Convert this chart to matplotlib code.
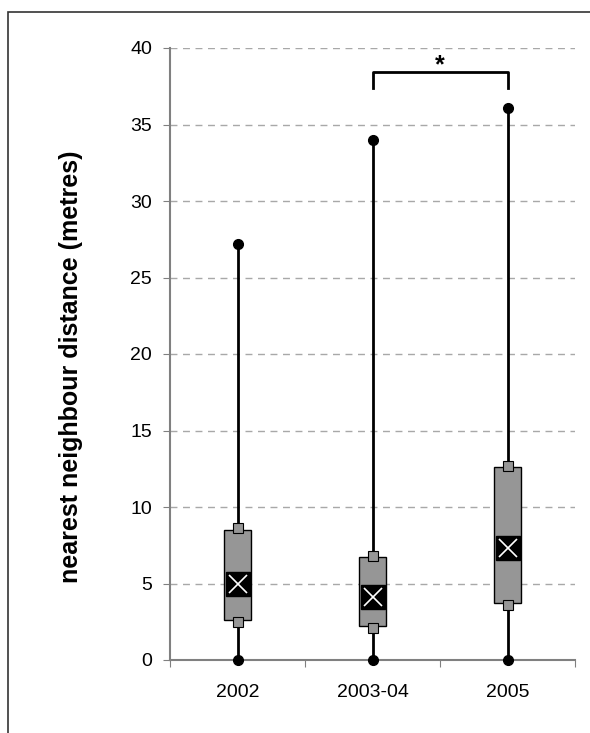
import matplotlib
matplotlib.use("Agg")
import matplotlib.pyplot as plt
from matplotlib.patches import Rectangle

plt.rcParams['font.family'] = ['Liberation Sans', 'DejaVu Sans']

# data
years = ["2002", "2003-04", "2005"]
max_vals = [27.2, 34.0, 36.1]
min_vals = [0.0, 0.0, 0.0]
upper_sq = [8.6, 6.8, 12.7]
lower_sq = [2.5, 2.1, 3.6]
box_top = [8.5, 6.7, 12.6]
box_bottom = [2.6, 2.2, 3.7]
means = [5.0, 4.1, 7.3]
sig_pair = (1, 2)
sig_level = 38.4

fig = plt.figure(figsize=(5.9, 7.33), dpi=100)
ax = fig.add_axes([170/590, 1-660/733, 405/590, 612/733])

# outer frame of the original figure (clipped at right/bottom)
fig.patches.append(Rectangle((8/590, -0.1), 1.2, 1 - 12/733 + 0.1,
                             transform=fig.transFigure, fill=False,
                             edgecolor='#333333', lw=1.2))

xs = [i + 0.5 for i in range(len(years))]
bw = 0.2

for i, x in enumerate(xs):
    ax.plot([x, x], [min_vals[i], max_vals[i]], color='black', lw=2.0, zorder=2,
            solid_capstyle='butt')
    ax.add_patch(Rectangle((x - bw/2, box_bottom[i]), bw, box_top[i] - box_bottom[i],
                           facecolor='#969696', edgecolor='black', lw=1, zorder=3))
    ax.plot([x, x], [min_vals[i], max_vals[i]], 'o', color='black', ms=7,
            zorder=5, clip_on=False)
    ax.plot([x, x], [lower_sq[i], upper_sq[i]], 's', mfc='#969696', mec='black',
            mew=0.8, ms=6.5, zorder=4, linestyle='none')
    ax.plot(x, means[i], 's', color='black', ms=17, zorder=6)
    ax.plot(x, means[i], 'x', color='white', ms=13, mew=1.2, zorder=7)

# significance bracket
x1, x2 = xs[sig_pair[0]], xs[sig_pair[1]]
ax.plot([x1, x1, x2, x2], [sig_level - 1.0, sig_level, sig_level, sig_level - 1.0],
        color='black', lw=2, zorder=5, clip_on=False)
ax.text((x1 + x2) / 2, sig_level + 0.5, '*', ha='center', va='center',
        fontsize=18, fontweight='bold')

ax.set_xlim(0, 3)
ax.set_ylim(0, 40)
ax.set_yticks(range(0, 41, 5))
ax.set_xticks([0, 1, 2, 3])
ax.set_xticklabels([])
ax.set_xticks(xs, minor=True)
ax.set_xticklabels(years, minor=True)
ax.tick_params(axis='x', which='minor', length=0, labelsize=14, pad=17)
ax.tick_params(axis='y', direction='out', length=5, color='#808080', labelsize=14, pad=8)
ax.tick_params(axis='x', which='major', direction='out', length=5, color='#808080')

ax.yaxis.grid(True, linestyle=(0, (5, 4)), color='#a8a8a8', lw=1)
ax.set_axisbelow(True)
for s in ['top', 'right']:
    ax.spines[s].set_visible(False)
for s in ['left', 'bottom']:
    ax.spines[s].set_color('#808080')
    ax.spines[s].set_linewidth(1.5)

ax.set_ylabel('nearest neighbour distance (metres)', fontsize=18, fontweight='bold')
ax.yaxis.set_label_coords(-0.215, 0.479)

fig.savefig('out.png', dpi=100)
